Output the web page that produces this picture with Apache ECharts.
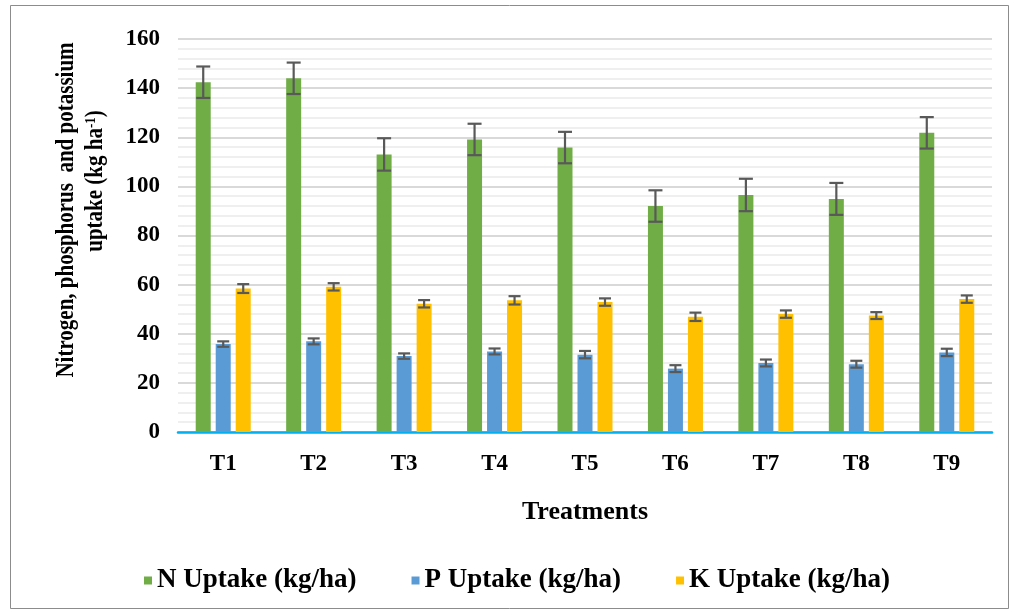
<!DOCTYPE html>
<html>
<head>
<meta charset="utf-8">
<script src="https://cdn.jsdelivr.net/npm/echarts@6/dist/echarts.min.js"></script>
<style>
  html, body { margin: 0; padding: 0; background: #ffffff; }
  #chart { width: 1016px; height: 613px; }
</style>
</head>
<body>
<div id="chart"></div>
<script>
// Treatments and nutrient uptake (kg/ha) with error half-widths
const categories = ['T1', 'T2', 'T3', 'T4', 'T5', 'T6', 'T7', 'T8', 'T9'];
const nUptake = [142.4, 144.0, 113.0, 119.1, 115.8, 92.0, 96.5, 94.9, 121.8];
const pUptake = [35.8, 36.9, 30.9, 32.8, 31.5, 25.8, 28.1, 27.6, 32.4];
const kUptake = [58.4, 59.1, 52.2, 53.6, 52.9, 46.9, 48.0, 47.4, 54.1];
const nError = [6.4, 6.4, 6.6, 6.4, 6.4, 6.4, 6.6, 6.5, 6.4];
const pError = [1.1, 1.2, 1.1, 1.2, 1.5, 1.4, 1.4, 1.4, 1.5];
const kError = [1.8, 1.5, 1.5, 1.7, 1.5, 1.7, 1.5, 1.4, 1.5];
const seriesNames = ['N Uptake (kg/ha)', 'P Uptake (kg/ha)', 'K Uptake (kg/ha)'];
const yTicks = { min: 0, max: 160, interval: 20 };

const FONT = "'Liberation Serif', 'Times New Roman', serif";
const COLORS = ['#70AD47', '#5B9BD5', '#FFC000'];
const BAR_W = 15;
const BAR_GAP = 5;

function errorData(values, errors) {
  return values.map((v, i) => [i, v - errors[i], v + errors[i]]);
}

// Whisker with caps, shifted to sit on its bar inside the category group
function errorSeries(values, errors, slot, capHalf) {
  return {
    type: 'custom',
    name: seriesNames[slot] + ' error',
    z: 5,
    silent: true,
    encode: { x: 0, y: [1, 2] },
    data: errorData(values, errors),
    renderItem: function (params, api) {
      const offset = (slot - 1) * (BAR_W + BAR_GAP);
      const lo = api.coord([api.value(0), api.value(1)]);
      const hi = api.coord([api.value(0), api.value(2)]);
      const x = lo[0] + offset;
      const style = { stroke: '#595959', lineWidth: 2.2, fill: null };
      return {
        type: 'group',
        children: [
          { type: 'line', shape: { x1: x, y1: lo[1], x2: x, y2: hi[1] }, style: style },
          { type: 'line', shape: { x1: x - capHalf, y1: lo[1], x2: x + capHalf, y2: lo[1] }, style: style },
          { type: 'line', shape: { x1: x - capHalf, y1: hi[1], x2: x + capHalf, y2: hi[1] }, style: style }
        ]
      };
    }
  };
}

function barSeries(values, slot) {
  return {
    type: 'bar',
    name: seriesNames[slot],
    data: values,
    barWidth: BAR_W,
    barGap: (BAR_GAP / BAR_W * 100) + '%',
    itemStyle: { color: COLORS[slot] },
    z: 2
  };
}

const chart = echarts.init(document.getElementById('chart'), null, { renderer: 'canvas' });

chart.setOption({
  animation: false,
  backgroundColor: '#ffffff',
  color: COLORS,
  grid: { left: 178, right: 24, top: 39, bottom: 181, containLabel: false },
  legend: {
    data: seriesNames,
    left: 139,
    top: 562,
    itemWidth: 8,
    itemHeight: 8,
    itemGap: 55,
    icon: 'rect',
    textStyle: { fontFamily: FONT, fontWeight: 'bold', fontSize: 27, color: '#000' }
  },
  xAxis: {
    type: 'category',
    data: categories,
    axisTick: { show: false },
    axisLine: { show: true, lineStyle: { color: '#00B0F0', width: 2.5 } },
    axisLabel: { margin: 21, fontFamily: FONT, fontWeight: 'bold', fontSize: 23, color: '#000' },
    name: 'Treatments',
    nameLocation: 'middle',
    nameGap: 67,
    nameTextStyle: { fontFamily: FONT, fontWeight: 'bold', fontSize: 26, color: '#000' }
  },
  yAxis: {
    type: 'value',
    min: yTicks.min,
    max: yTicks.max,
    interval: yTicks.interval,
    axisLine: { show: false },
    axisTick: { show: false },
    axisLabel: { margin: 18, fontFamily: FONT, fontWeight: 'bold', fontSize: 23, color: '#000' },
    splitLine: { show: true, lineStyle: { color: '#d9d9d9', width: 2 } },
    minorTick: { show: false, splitNumber: 5 },
    minorSplitLine: { show: true, lineStyle: { color: '#efefef', width: 2 } }
  },
  graphic: [
    {
      type: 'rect',
      silent: true,
      z: -1,
      shape: { x: 10.5, y: 5.5, width: 998, height: 603 },
      style: { fill: null, stroke: '#8c8c8c', lineWidth: 1 }
    },
    {
      type: 'text',
      x: 67,
      y: 210,
      rotation: Math.PI / 2,
      scaleY: 1.18,
      style: {
        text: 'Nitrogen, phosphorus  and potassium',
        font: "bold 21px 'Liberation Serif', 'Times New Roman', serif",
        fill: '#000',
        align: 'center',
        verticalAlign: 'middle'
      }
    },
    {
      type: 'text',
      x: 96,
      y: 181,
      rotation: Math.PI / 2,
      scaleY: 1.18,
      style: {
        text: 'uptake (kg ha{sup|-1})',
        font: "bold 21px 'Liberation Serif', 'Times New Roman', serif",
        fill: '#000',
        align: 'center',
        verticalAlign: 'middle',
        rich: {
          sup: {
            fontFamily: FONT,
            fontWeight: 'bold',
            fontSize: 13,
            verticalAlign: 'top',
            fill: '#000'
          }
        }
      }
    }
  ],
  series: [
    barSeries(nUptake, 0),
    barSeries(pUptake, 1),
    barSeries(kUptake, 2),
    errorSeries(nUptake, nError, 0, 7),
    errorSeries(pUptake, pError, 1, 6),
    errorSeries(kUptake, kError, 2, 6)
  ]
});
</script>
</body>
</html>
